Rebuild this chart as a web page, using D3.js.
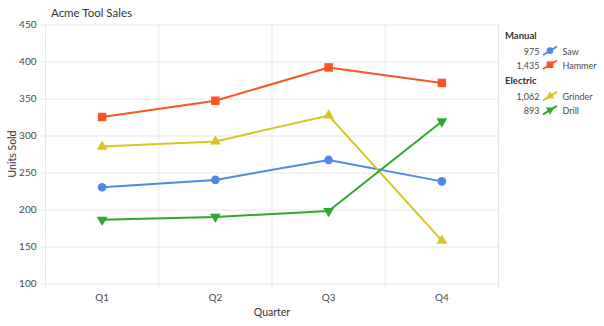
<!DOCTYPE html>
<html>
<head>
<meta charset="utf-8">
<script src="https://cdn.jsdelivr.net/npm/d3@7"></script>
<style>
  html, body { margin: 0; padding: 0; background: #fff; }
  svg { display: block; font-family: Lato, "Open Sans", sans-serif; }
</style>
</head>
<body>
<svg id="chart" width="604" height="326"></svg>
<script>
// Quarterly unit sales per tool
const quarters = ["Q1", "Q2", "Q3", "Q4"];
const sawSales = [230, 240, 267, 238];
const hammerSales = [325, 347, 392, 371];
const grinderSales = [285, 292, 327, 158];
const drillSales = [186, 190, 198, 319];
const yTicks = [100, 150, 200, 250, 300, 350, 400, 450];
const groups = ["Manual", "Electric"];

const series = [
  { name: "Saw", group: "Manual", values: sawSales, color: "#4f88ea", symbol: d3.symbolCircle, size: 58 },
  { name: "Hammer", group: "Manual", values: hammerSales, color: "#fb5424", symbol: d3.symbolSquare, size: 72 },
  { name: "Grinder", group: "Electric", values: grinderSales, color: "#d6c524", symbol: d3.symbolTriangle, size: 50 },
  { name: "Drill", group: "Electric", values: drillSales, color: "#2fa82f", symbol: d3.symbolTriangle, size: 50, flip: true }
];

const svg = d3.select("#chart");
const plot = { left: 45.5, right: 498.5, top: 24.5, bottom: 283.5 };

const x = d3.scaleBand().domain(quarters).range([plot.left, plot.right]);
const y = d3.scaleLinear().domain([100, 450]).range([plot.bottom, plot.top]);

const gridColor = "#e6e6e6";
const textColor = "#4a4a4a";

// Title
svg.append("text")
  .attr("x", 51).attr("y", 17)
  .attr("font-size", 11.5).attr("fill", "#333")
  .text("Acme Tool Sales");

// Horizontal grid lines with left tick marks
const yAxis = d3.axisLeft(y).tickValues(yTicks)
  .tickSize(plot.right - plot.left + 5).tickPadding(4).tickFormat(d3.format("d"));
const gy = svg.append("g")
  .attr("transform", `translate(${plot.right},0)`)
  .call(yAxis);
gy.select(".domain").remove();
gy.selectAll(".tick line").attr("stroke", gridColor);
gy.selectAll(".tick text")
  .attr("font-family", "Lato, 'Open Sans', sans-serif")
  .attr("font-size", 10).attr("fill", textColor);

// Vertical grid lines at category boundaries, extending below the plot as ticks
const boundaries = quarters.map(q => x(q)).concat([x(quarters[quarters.length - 1]) + x.bandwidth()]);
svg.append("g").selectAll("line")
  .data(boundaries)
  .join("line")
  .attr("x1", d => d).attr("x2", d => d)
  .attr("y1", plot.top).attr("y2", plot.bottom + 5)
  .attr("stroke", gridColor);

// Category labels
const xAxis = d3.axisBottom(x).tickSize(0).tickPadding(10);
const gx = svg.append("g")
  .attr("transform", `translate(0,${plot.bottom})`)
  .call(xAxis);
gx.select(".domain").remove();
gx.selectAll(".tick text")
  .attr("font-family", "Lato, 'Open Sans', sans-serif")
  .attr("font-size", 10).attr("fill", textColor);

// Axis titles
svg.append("text")
  .attr("x", (plot.left + plot.right) / 2).attr("y", 316)
  .attr("text-anchor", "middle").attr("font-size", 10.5).attr("fill", "#333")
  .text("Quarter");
svg.append("text")
  .attr("transform", `translate(16,${(plot.top + plot.bottom) / 2}) rotate(-90)`)
  .attr("text-anchor", "middle").attr("font-size", 10.5).attr("fill", "#333")
  .text("Units Sold");

// Series lines and markers
const line = d3.line()
  .x((d, i) => x(quarters[i]) + x.bandwidth() / 2)
  .y(d => y(d));

series.forEach(s => {
  const g = svg.append("g");
  g.append("path")
    .attr("d", line(s.values))
    .attr("fill", "none").attr("stroke", s.color).attr("stroke-width", 2);
  g.selectAll("path.marker")
    .data(s.values)
    .join("path")
    .attr("class", "marker")
    .attr("d", d3.symbol(s.symbol, s.size))
    .attr("transform", (d, i) =>
      `translate(${x(quarters[i]) + x.bandwidth() / 2},${y(d)})` + (s.flip ? " rotate(180)" : ""))
    .attr("fill", s.color);
});

// Grouped legend with totals
const fmt = d3.format(",");
const legend = svg.append("g");
let ly = 38.7;
groups.forEach((grp, gi) => {
  if (gi > 0) ly += 15;
  legend.append("text")
    .attr("x", 505).attr("y", ly)
    .attr("font-size", 9.5).attr("font-weight", "bold").attr("fill", "#333")
    .text(grp);
  series.filter(s => s.group === grp).forEach((s, si) => {
    ly += si === 0 ? 16.3 : 14;
    const row = legend.append("g").attr("transform", `translate(0,${ly})`);
    row.append("text")
      .attr("x", 539.5).attr("y", 0).attr("text-anchor", "end")
      .attr("font-size", 9).attr("fill", textColor)
      .text(fmt(d3.sum(s.values)));
    row.append("line")
      .attr("x1", 543).attr("y1", 0).attr("x2", 557).attr("y2", -8.5)
      .attr("stroke", s.color).attr("stroke-width", 2);
    row.append("path")
      .attr("d", d3.symbol(s.symbol, s.size * 0.6))
      .attr("transform", `translate(550,-4.3)` + (s.flip ? " rotate(180)" : ""))
      .attr("fill", s.color);
    row.append("text")
      .attr("x", 562.5).attr("y", 0)
      .attr("font-size", 9).attr("fill", textColor)
      .text(s.name);
  });
});
</script>
</body>
</html>
